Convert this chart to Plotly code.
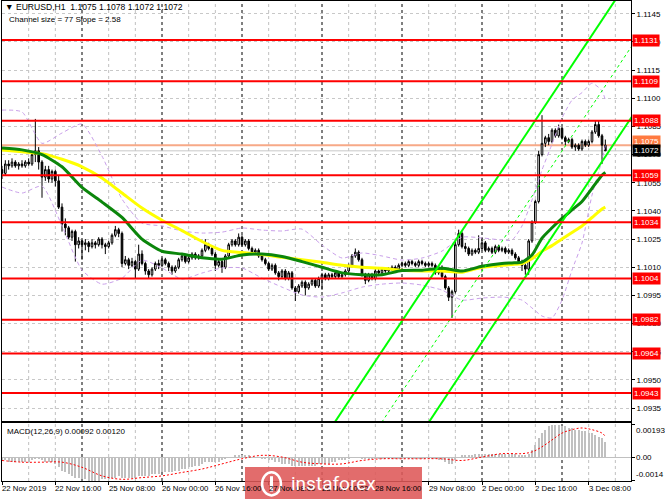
import plotly.graph_objects as go

# ---------------- data (prices in pips above 1.1000) ----------------
BASE = 1.1000
PIP = 0.0001

open_pips = [62,60,65,64,66,64,65,64,66,65,70,72,66,58,62,57,61,56,42,33,31,26,29,22,
             24,22,23,21,23,22,25,22,21,23,27,30,28,12,14,11,13,9,17,12,8,6,9,12,
             11,14,12,10,8,10,14,16,13,15,17,15,16,19,22,20,17,11,13,10,16,22,24,22,
             26,22,24,20,18,19,16,14,12,9,11,7,5,8,4,7,-1,-3,0,2,-1,1,3,0,
             4,6,4,6,5,7,5,6,8,11,16,18,14,6,3,6,4,8,7,9,8,9,10,9,
             11,12,11,13,12,11,13,12,11,12,11,7,10,5,-1,-6,-3,22,28,21,20,17,19,18,
             20,23,19,20,18,21,19,20,18,19,17,15,13,11,9,24,34,45,70,76,79,77,83,80,
             84,79,77,78,74,75,73,77,75,77,82,86,80,75]
high_pips = [64,67,67,68,67,66,67,67,68,71,89,74,67,64,64,62,62,59,44,36,32,30,30,26,
             25,25,24,25,24,26,26,23,24,28,32,31,29,16,15,15,14,22,19,13,9,10,13,14,
             15,15,13,11,11,15,17,17,16,18,18,17,20,25,23,21,18,14,14,17,23,25,25,28,
             27,25,25,21,20,20,17,15,13,12,12,8,9,9,8,8,0,1,3,3,2,4,4,5,
             7,7,7,7,8,8,7,9,12,17,20,19,15,7,7,7,9,9,10,10,10,11,11,12,
             13,13,14,14,13,14,14,13,13,13,12,11,11,6,0,-2,24,30,29,23,21,20,20,27,
             26,24,21,21,22,22,21,21,20,20,18,16,14,12,25,35,46,72,91,80,81,84,84,86,
             85,80,79,79,76,76,78,78,78,83,88,88,81,78]
low_pips = [57,59,62,63,63,62,63,63,64,64,66,62,47,56,55,55,53,41,29,27,25,24,13,20,
            14,19,18,20,20,21,20,17,20,22,26,26,10,11,9,10,4,8,11,6,4,5,8,9,
            10,11,8,6,7,9,13,12,12,14,14,14,15,18,19,16,8,10,7,9,15,21,21,21,
            21,21,19,17,17,15,13,11,8,8,6,3,4,3,3,-2,-8,-4,-1,-5,-2,0,-1,-1,
            -2,3,3,4,4,4,4,5,7,10,15,13,5,1,2,3,3,6,6,7,7,8,8,8,
            10,10,10,11,10,10,11,10,10,10,6,6,4,-2,-8,-17,-4,21,20,18,16,16,17,17,
            19,18,18,17,17,18,18,17,17,16,14,12,8,6,6,23,33,44,69,74,75,76,79,79,
            78,75,76,73,72,72,72,74,74,76,81,79,65,72]
close_pips = [60,65,64,66,64,65,64,66,65,70,72,66,58,62,57,61,56,42,33,31,26,29,22,24,
              22,23,21,23,22,25,22,21,23,27,30,28,12,14,11,13,9,17,12,8,6,9,12,11,
              14,12,10,8,10,14,16,13,15,17,15,16,19,22,20,17,11,13,10,16,22,24,22,26,
              22,24,20,18,19,16,14,12,9,11,7,5,8,4,7,-1,-3,0,2,-1,1,3,0,4,
              6,4,6,5,7,5,6,8,11,16,18,14,6,3,6,4,8,7,9,8,9,10,9,11,
              12,11,13,12,11,13,12,11,12,11,7,10,5,-1,-6,-3,22,28,21,20,17,19,18,20,
              23,19,20,18,21,19,20,18,19,17,15,13,11,9,24,34,45,70,76,79,77,83,80,84,
              79,77,78,74,75,73,77,75,77,82,86,80,75,72]

# moving averages / bands read at selected bars
ind_bars = [0,6,12,18,24,30,36,42,48,54,60,66,72,78,84,90,96,102,108,114,120,126,132,138,
            144,150,153,156,159,162,165,168,171,174,177,180,181]
green_ma_pips = [73.5,72.5,70,63.5,52.5,44.7,36.5,25,18.5,17,15,14.3,16.5,17,15.7,13,10,7,6,6,
                 8.2,8.4,9.5,8,10.5,12,12.3,12.7,16.5,25.5,31,36,40.5,45,52,59,60.5]
yellow_ma_pips = [72.5,71.5,70.5,67.5,63.5,57.5,49.5,41.5,35,29.5,23.7,19,17.8,16.8,15.3,14,12.6,
                  11,10,9.5,8.4,8,8,7.3,10,11,11.5,12,14.5,18.5,21.5,25,28.5,32,36.5,41,42]
upper_band_pips = [93.7,92.7,76,81.5,86.3,69.2,46.3,33.5,32,29.3,28.2,28.7,30.9,29.8,29.3,30.3,
                   21.8,14.9,17.6,16,13.8,14.9,18.6,26,25.6,24.5,24.5,32,45.8,61.8,75.6,89.5,
                   99,103,108,104,99]
lower_band_pips = [52.7,49.5,53.2,32,8.5,1,4.2,13.8,9.6,3.7,6.9,9.6,9.6,4.2,-0.6,-4.8,-5.9,-3.7,
                   -0.6,1,1.6,0.5,-2.2,-7.5,-6.4,-5.9,-6.4,-7.5,-11.7,-16,-17,-7.5,8.5,22.9,
                   48.4,67,75]

# regression channel (middle line) and half width
channel_bars = [90, 200]
channel_mid_pips = [-136.5, 157.4]
channel_half_pips = 37.7

# support / resistance levels
levels = [1.1131, 1.1109, 1.1088, 1.1059, 1.1034, 1.1004, 1.0982, 1.0964, 1.0943]
ask_price = 1.1075
bid_price = 1.1072

# MACD (in pips)
macd_hist_pips = [-2,-2,-3,-3,-3,-3,-3,-3,-3,-2,-1,-1,-2,-3,-3,-3,
                  -4,-6,-8,-9,-10,-11,-12,-12,-13,-13,-14,-14,-14,-14,-13,
                  -13,-13,-12,-12,-11,-12,-12,-12,-12,-12,-11,-11,-11,-11,-10,-10,-10,-9,
                  -9,-9,-9,-8,-8,-7,-7,-6,-6,-5,-5,-4,-3,-3,-3,-3,-3,-2,-1,0,0,1,1,1,1,1,
                  0,0,0,-1,-1,-2,-2,-3,-3,-4,-4,-4,-5,-5,-5,-5,-5,-5,-5,-5,-4,-4,-4,
                  -4,-3,-3,-2,-2,-2,-1,0,0,0,-1,-1,-1,-1,-1,-1,-1,-1,-1,-1,-1,-1,-1,-1,-1,-1,-1,-1,-1,-1,
                  -1,-1,-1,-2,-2,-3,-4,-4,-2,0,1,1,1,
                  1,2,2,2,2,2,2,2,2,2,2,2,2,2,1,1,1,
                  2,4,7,11,14,16,18,19,19,19,18,18,17,17,16,16,15,15,14,14,13,12,11,9]
signal_bars = [0,6,12,18,24,30,36,42,48,54,60,66,72,78,84,90,96,102,108,114,120,126,132,138,
               144,150,156,159,162,165,168,171,174,177,180,181]
signal_pips = [-2,-3,-3,-3,-6,-11,-13,-12,-11,-9,-7,-4,-1,1,0,-3,-4,-4,-2,-1,-1,-1,-1,-2,
               0,2,2,3,6,10,14,16,17,16,14,12]

time_labels = ["22 Nov 2019", "22 Nov 16:00", "25 Nov 08:00", "26 Nov 00:00", "26 Nov 16:00",
               "27 Nov 08:00", "28 Nov 00:00", "28 Nov 16:00", "29 Nov 08:00", "2 Dec 00:00",
               "2 Dec 16:00", "3 Dec 08:00"]
time_label_bars = [0, 16, 32, 48, 64, 80, 96, 112, 128, 144, 160, 176]
day_start_bars = [24, 48, 72, 96, 120, 144, 168]

price_ticks = [1.0935, 1.0950, 1.0965, 1.0980, 1.0995, 1.1010, 1.1025, 1.1040, 1.1055,
               1.1070, 1.1085, 1.1100, 1.1115, 1.1130, 1.1145]

# ---------------- figure ----------------
FONT = "Tahoma, Liberation Sans, Arial, sans-serif"
def to_price(lst):
    return [BASE + v * PIP for v in lst]

bars = list(range(len(close_pips)))
X_RANGE = [0, 188.7]

fig = go.Figure()

fig.add_trace(go.Candlestick(
    x=bars, open=to_price(open_pips), high=to_price(high_pips),
    low=to_price(low_pips), close=to_price(close_pips),
    increasing=dict(line=dict(color="black", width=1), fillcolor="white"),
    decreasing=dict(line=dict(color="black", width=1), fillcolor="black"),
    whiskerwidth=0, hoverinfo="skip", xaxis="x", yaxis="y"))

band_style = dict(color="#c9a0ea", width=1, dash="4px,3px")
fig.add_trace(go.Scatter(x=ind_bars, y=to_price(upper_band_pips), mode="lines",
                         line=dict(shape="spline", smoothing=0.6, **band_style), xaxis="x", yaxis="y"))
fig.add_trace(go.Scatter(x=ind_bars, y=to_price(lower_band_pips), mode="lines",
                         line=dict(shape="spline", smoothing=0.6, **band_style), xaxis="x", yaxis="y"))

fig.add_trace(go.Scatter(x=ind_bars, y=to_price(yellow_ma_pips), mode="lines",
                         line=dict(color="#ffff00", width=3, shape="spline", smoothing=0.6),
                         xaxis="x", yaxis="y"))
fig.add_trace(go.Scatter(x=ind_bars, y=to_price(green_ma_pips), mode="lines",
                         line=dict(color="#0b860b", width=3, shape="spline", smoothing=0.6),
                         xaxis="x", yaxis="y"))

# regression channel
mid = to_price(channel_mid_pips)
for off, dash, w in [(channel_half_pips, "solid", 2), (0, "dot", 1), (-channel_half_pips, "solid", 2)]:
    fig.add_trace(go.Scatter(x=channel_bars, y=[m + off * PIP for m in mid], mode="lines",
                             line=dict(color="#00ff00", width=w, dash=dash), xaxis="x", yaxis="y"))

# MACD
fig.add_trace(go.Bar(x=bars, y=[v * PIP for v in macd_hist_pips], width=0.55,
                     marker=dict(color="#c0c0c0", line=dict(width=0)), xaxis="x2", yaxis="y2"))
fig.add_trace(go.Scatter(x=signal_bars, y=[v * PIP for v in signal_pips], mode="lines",
                         line=dict(color="#ff0000", width=1, dash="2px,2px", shape="spline"),
                         xaxis="x2", yaxis="y2"))

shapes = []
# vertical grid and day separators
for b in range(0, 189, 8):
    if b in day_start_bars or b == 0:
        continue
    shapes.append(dict(type="line", xref="x", yref="paper", x0=b, x1=b, y0=0, y1=1,
                       line=dict(color="#c0c0c0", width=1, dash="3px,3px"), layer="below"))
for b in day_start_bars:
    shapes.append(dict(type="line", xref="x", yref="paper", x0=b, x1=b, y0=0, y1=1,
                       line=dict(color="#000000", width=1, dash="3px,3px"), layer="below"))
# bid / ask lines
shapes.append(dict(type="line", xref="x domain", yref="y", x0=0, x1=1, y0=bid_price, y1=bid_price,
                   line=dict(color="#c8c8c8", width=1), layer="below"))
shapes.append(dict(type="line", xref="x domain", yref="y", x0=0, x1=1, y0=ask_price, y1=ask_price,
                   line=dict(color="#f7a987", width=2), layer="below"))
# level lines
for lv in levels:
    shapes.append(dict(type="line", xref="x domain", yref="y", x0=0, x1=1, y0=lv, y1=lv,
                       line=dict(color="#ff0000", width=2)))

# watermark box
shapes.append(dict(type="rect", xref="paper", yref="paper", x0=0.3863, x1=0.6677, y0=-0.045, y1=0.0292,
                   fillcolor="rgba(222,88,88,0.88)", line=dict(width=0), layer="above"))
# simple white emblem at the left of the watermark
shapes.append(dict(type="circle", xref="paper", yref="paper", x0=0.4135, x1=0.4435, y0=-0.03, y1=0.018,
                   fillcolor="rgba(0,0,0,0)", line=dict(color="white", width=2.5), layer="above"))
shapes.append(dict(type="line", xref="paper", yref="paper", x0=0.4285, x1=0.4285, y0=-0.022, y1=0.010,
                   line=dict(color="white", width=3), layer="above"))

LBL = dict(family=FONT, size=8, color="white")
annotations = []
for lv in levels:
    annotations.append(dict(xref="paper", yref="y", x=1, y=lv, xanchor="left", yanchor="middle",
                            xshift=1, text=f"{lv:.4f}", showarrow=False, bgcolor="#ff0000",
                            font=LBL, borderpad=1))
annotations.append(dict(xref="paper", yref="y", x=1, y=ask_price, xanchor="left", yanchor="middle",
                        xshift=1, yshift=4, text=f"{ask_price:.4f}", showarrow=False, bgcolor="#ff7a40",
                        font=LBL, borderpad=1))
annotations.append(dict(xref="paper", yref="y", x=1, y=bid_price, xanchor="left", yanchor="middle",
                        xshift=1, text=f"{bid_price:.4f}", showarrow=False, bgcolor="#000000",
                        font=LBL, borderpad=1))

for b, t in zip(time_label_bars, time_labels):
    annotations.append(dict(xref="x2", yref="paper", x=b, y=0, xanchor="left", yanchor="top",
                            yshift=-1, xshift=-2, text=t, showarrow=False,
                            font=dict(family=FONT, size=7.8, color="black")))

annotations.append(dict(xref="paper", yref="paper", x=0.001, y=0.9885, xanchor="left", yanchor="middle",
                        text="▼ EURUSD,H1  1.1075 1.1078 1.1072 1.1072", showarrow=False,
                        font=dict(family=FONT, size=8.6, color="black")))
annotations.append(dict(xref="paper", yref="paper", x=0.008, y=0.962, xanchor="left", yanchor="middle",
                        text="Channel size = 77 Slope = 2.58", showarrow=False,
                        font=dict(family=FONT, size=8, color="black")))
annotations.append(dict(xref="paper", yref="paper", x=0.004, y=0.104, xanchor="left", yanchor="middle",
                        text="MACD(12,26,9) 0.00092 0.00120", showarrow=False,
                        font=dict(family=FONT, size=8, color="black")))
for val, txt in [(0.00193, "0.00193"), (0.0, "0.00"), (-0.0014, "-0.0014")]:
    annotations.append(dict(xref="paper", yref="y2", x=1, y=val, xanchor="left",
                            yanchor="top" if val > 0 else ("middle" if val == 0 else "bottom"),
                            xshift=3, text=txt, showarrow=False,
                            font=dict(family=FONT, size=8, color="black")))

annotations.append(dict(xref="paper", yref="paper", x=0.5265, y=-0.006, xanchor="center", yanchor="middle",
                        text="instaforex", showarrow=False,
                        font=dict(family="Roboto, Lato, sans-serif", size=19, color="white")))

fig.update_layout(
    width=665, height=499,
    margin=dict(l=2, r=34, t=1, b=18),
    paper_bgcolor="white", plot_bgcolor="white",
    showlegend=False, bargap=0,
    shapes=shapes, annotations=annotations,
    xaxis=dict(domain=[0, 1], range=X_RANGE, anchor="y", showticklabels=False, showgrid=False,
               zeroline=False, showline=True, linecolor="black", linewidth=1, mirror=True,
               rangeslider=dict(visible=False), fixedrange=True),
    yaxis=dict(domain=[0.125, 1], range=[1.09281, 1.11518], side="right", anchor="x",
               tickvals=price_ticks, ticktext=[f"{v:.4f}" for v in price_ticks],
               ticks="outside", ticklen=3, tickcolor="black",
               tickfont=dict(family=FONT, size=8, color="black"),
               showgrid=True, gridcolor="#c8c8c8", griddash="3px,3px", gridwidth=1,
               zeroline=False, showline=True, linecolor="black", linewidth=1, mirror=True),
    xaxis2=dict(domain=[0, 1], range=X_RANGE, anchor="y2", showticklabels=False, showgrid=False,
                tickvals=time_label_bars, ticks="outside", ticklen=3, tickcolor="black",
                zeroline=False, showline=True, linecolor="black", linewidth=1, mirror=True),
    yaxis2=dict(domain=[0, 0.1208], range=[-0.0014, 0.00199], side="right", anchor="x2",
                tickvals=[0.00193, 0, -0.0014], ticks="outside", ticklen=3, tickcolor="black",
                showticklabels=False, showgrid=False, zeroline=True, zerolinecolor="#c0c0c0",
                zerolinewidth=1, showline=True, linecolor="black", linewidth=1, mirror=True),
)

fig.write_html("out.html", config={"displayModeBar": False, "staticPlot": True},
               post_script="document.body.style.margin='0';document.body.style.overflow='hidden';")
